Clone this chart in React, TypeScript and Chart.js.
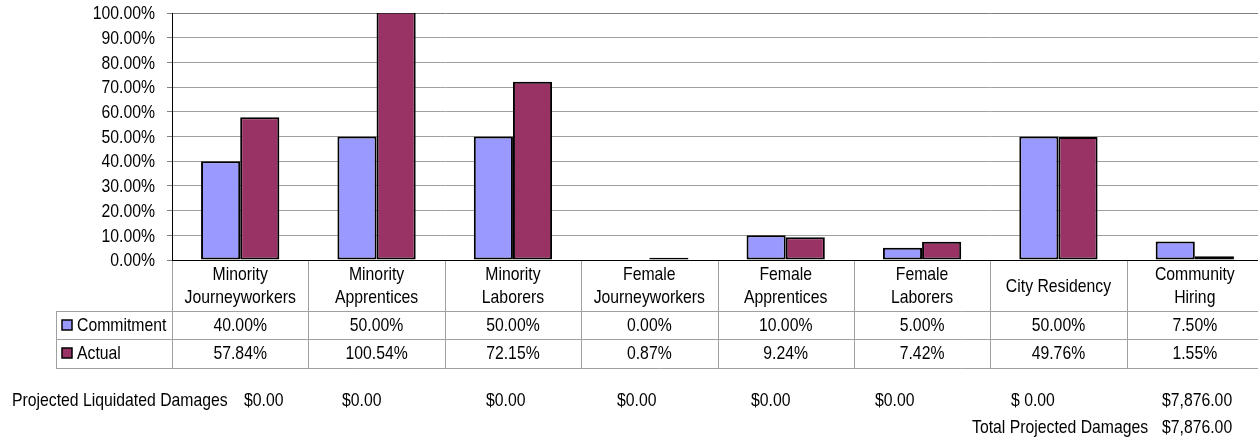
import React, { useEffect, useRef } from "react";
import { Chart, registerables } from "chart.js";

Chart.register(...registerables);

const categories: string[][] = [
  ["Minority", "Journeyworkers"],
  ["Minority", "Apprentices"],
  ["Minority", "Laborers"],
  ["Female", "Journeyworkers"],
  ["Female", "Apprentices"],
  ["Female", "Laborers"],
  ["City Residency"],
  ["Community", "Hiring"],
];
const commitment: number[] = [40, 50, 50, 0, 10, 5, 50, 7.5];
const actual: number[] = [57.84, 100.54, 72.15, 0.87, 9.24, 7.42, 49.76, 1.55];
const seriesNames: string[] = ["Commitment", "Actual"];
const damagesLabel = "Projected Liquidated Damages";
const damages: string[] = ["$0.00", "$0.00", "$0.00", "$0.00", "$0.00", "$0.00", "$ 0.00", "$7,876.00"];
const totalLabel = "Total Projected Damages";
const totalDamages = "$7,876.00";

// layout (not data)
const damagesX: number[] = [244, 342, 486, 617, 751, 875, 1011, 1162];
const FONT = '19px "Liberation Sans", Arial, sans-serif';
const SQUEEZE = 0.83; // emulate a narrow face
const COLORS = ["#9999FF", "#993366"];
const GRID = "#a0a0a0";

const fmtPct = (v: number) => v.toFixed(2) + "%";

function narrowText(ctx: CanvasRenderingContext2D, text: string, x: number, y: number, align: CanvasTextAlign) {
  ctx.save();
  ctx.font = FONT;
  ctx.fillStyle = "#000";
  ctx.textBaseline = "middle";
  ctx.textAlign = align;
  ctx.translate(x, y);
  ctx.scale(SQUEEZE, 1);
  ctx.fillText(text, 0, 0);
  ctx.restore();
}

const tablePlugin = {
  id: "dataTable",
  afterDraw(chart: any) {
    const { ctx, chartArea: a } = chart;
    const n = categories.length;
    const cw = (a.right - a.left) / n;
    const top = a.bottom;
    const r1 = top + 51;
    const r2 = r1 + 28;
    const r3 = r2 + 29;
    const legendLeft = 56;
    ctx.save();
    ctx.strokeStyle = GRID;
    ctx.lineWidth = 1;
    const line = (x1: number, y1: number, x2: number, y2: number) => {
      ctx.beginPath();
      ctx.moveTo(x1, y1);
      ctx.lineTo(x2, y2);
      ctx.stroke();
    };
    for (let i = 0; i <= n; i++) {
      const x = Math.round(a.left + i * cw) + 0.5;
      line(x, top + 1, x, r3 + 0.5);
    }
    line(legendLeft + 0.5, r1, legendLeft + 0.5, r3 + 0.5);
    for (const y of [r1, r2, r3]) line(legendLeft, y + 0.5, a.right, y + 0.5);

    // y tick labels
    const ys = chart.scales.y;
    ys.ticks.forEach((t: any) => {
      narrowText(ctx, fmtPct(t.value), a.left - 17, ys.getPixelForValue(t.value) + 1, "right");
    });

    categories.forEach((lab, i) => {
      const cx = a.left + (i + 0.5) * cw;
      if (lab.length === 1) {
        narrowText(ctx, lab[0], cx, top + 27, "center");
      } else {
        narrowText(ctx, lab[0], cx, top + 15, "center");
        narrowText(ctx, lab[1], cx, top + 38, "center");
      }
      narrowText(ctx, fmtPct(commitment[i]), cx, r1 + 15, "center");
      narrowText(ctx, fmtPct(actual[i]), cx, r2 + 15, "center");
    });

    // legend keys
    const rowsY = [r1 + 14, r2 + 14];
    rowsY.forEach((yc, k) => {
      ctx.fillStyle = COLORS[k];
      ctx.fillRect(62, yc - 5, 10, 10);
      ctx.strokeStyle = "#000";
      ctx.lineWidth = 1.5;
      ctx.strokeRect(62, yc - 5, 10, 10);
      narrowText(ctx, seriesNames[k], 77, yc + 1, "left");
    });

    // damages rows
    narrowText(ctx, damagesLabel, 12, 401, "left");
    damages.forEach((d, i) => narrowText(ctx, d, damagesX[i], 401, "left"));
    narrowText(ctx, totalLabel, 972, 428, "left");
    narrowText(ctx, totalDamages, damagesX[damagesX.length - 1], 428, "left");
    ctx.restore();
  },
};

export default function App() {
  const ref = useRef<HTMLCanvasElement>(null);
  useEffect(() => {
    if (!ref.current) return;
    const chart = new Chart(ref.current, {
      type: "bar",
      data: {
        labels: categories.map((c) => c.join(" ")),
        datasets: [
          {
            label: seriesNames[0],
            data: commitment,
            backgroundColor: COLORS[0],
            borderColor: "#000",
            borderWidth: 2,
            borderSkipped: false,
          },
          {
            label: seriesNames[1],
            data: actual,
            backgroundColor: COLORS[1],
            borderColor: "#000",
            borderWidth: 2,
            borderSkipped: false,
          },
        ],
      },
      options: {
        responsive: false,
        animation: false,
        devicePixelRatio: 1,
        layout: { padding: { top: 13, left: 0, right: 1, bottom: 0 } },
        datasets: { bar: { categoryPercentage: 0.574, barPercentage: 1 } },
        plugins: { legend: { display: false }, tooltip: { enabled: false } },
        scales: {
          x: {
            ticks: { display: false },
            grid: { display: false },
            border: { display: true, color: "#000", width: 1 },
            afterFit: (s: any) => {
              s.height = 182;
            },
          },
          y: {
            min: 0,
            max: 100,
            ticks: {
              display: false,
              stepSize: 10,
              autoSkip: false,
            },
            grid: {
              color: (c: any) => (c.tick && c.tick.value === 100 ? "#808080" : GRID),
              tickColor: "#808080",
              tickLength: 5,
            },
            border: { display: true, color: "#000", width: 1 },
            afterFit: (s: any) => {
              s.width = 172;
            },
          },
        },
      },
      plugins: [tablePlugin],
    });
    return () => chart.destroy();
  }, []);
  return (
    <div style={{ position: "absolute", left: 0, top: 0, width: 1258, height: 442, overflow: "hidden", background: "#fff" }}>
      <canvas ref={ref} width={1264} height={442} style={{ width: 1264, height: 442, display: "block" }} />
    </div>
  );
}
